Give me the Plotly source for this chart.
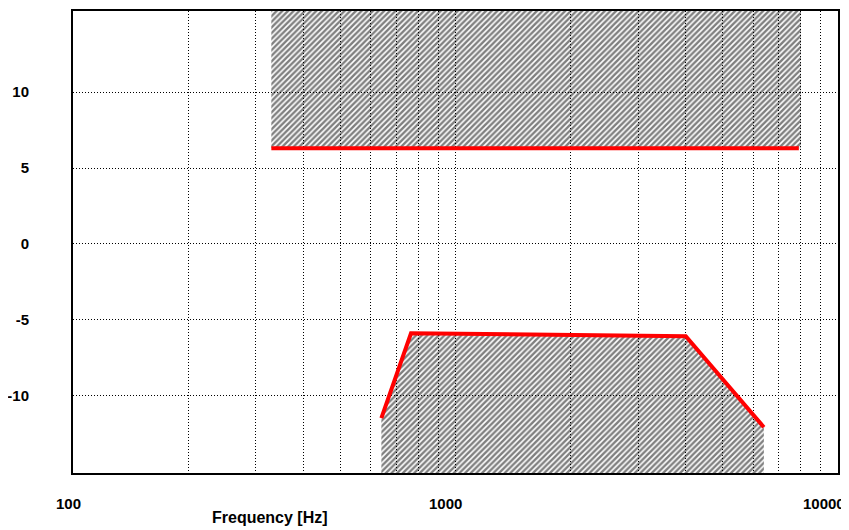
import math
import plotly.graph_objects as go

# Data
upper_x = [330, 8000]
upper_y = [6.3, 6.3]
upper_line_end = 7900
upper_top = 16

lower_x = [640, 765, 4000, 6400]
lower_y = [-11.5, -5.9, -6.1, -12.1]
y_bottom = -16

x_grid = [100, 200, 300, 400, 500, 600, 700, 800, 900,
          1000, 2000, 3000, 4000, 5000, 6000, 7000, 8000, 9000, 10000]
x_label_vals = [100, 1000, 10000]
x_label_text = ["100", "1000", "10000"]
x_label_shift = [-5, -10, -14]
y_ticks = [-10, -5, 0, 5, 10]
y_labels = ["-10", "-5", "0", "5", "10"]

pattern = dict(shape="/", fgcolor="#000000", bgcolor="rgba(0,0,0,0)", size=4, solidity=0.6)

fig = go.Figure()
fig.add_trace(go.Scatter(
    x=[upper_x[0], upper_x[1], upper_x[1], upper_x[0], upper_x[0]],
    y=[upper_y[0], upper_y[1], upper_top, upper_top, upper_y[0]],
    fill="toself", mode="none", fillcolor="rgba(0,0,0,0)", fillpattern=pattern,
    showlegend=False, hoverinfo="skip"))
fig.add_trace(go.Scatter(
    x=lower_x + [lower_x[-1], lower_x[0], lower_x[0]],
    y=lower_y + [y_bottom, y_bottom, lower_y[0]],
    fill="toself", mode="none", fillcolor="rgba(0,0,0,0)", fillpattern=pattern,
    showlegend=False, hoverinfo="skip"))
fig.add_trace(go.Scatter(x=[upper_x[0], upper_line_end], y=upper_y, mode="lines",
                         line=dict(color="#ff0000", width=4), showlegend=False))
fig.add_trace(go.Scatter(x=lower_x, y=lower_y, mode="lines",
                         line=dict(color="#ff0000", width=4), showlegend=False))

font_family = "Liberation Sans, Arial"
tick_font = dict(family=font_family, size=15, color="black", weight="bold")

fig.update_xaxes(
    type="log", range=[2, 4], automargin=False,
    tickvals=x_grid, showticklabels=False,
    showgrid=True, gridcolor="black", griddash="1px,2px", gridwidth=1.3,
    showline=True, linecolor="black", linewidth=2, mirror=True,
    ticks="", zeroline=False)
fig.update_yaxes(
    range=[-15.12, 15.36], tickvals=y_ticks, ticktext=y_labels, automargin=False,
    showgrid=True, gridcolor="black", griddash="1px,2px", gridwidth=1.3,
    showline=True, linecolor="black", linewidth=2, mirror=True,
    ticks="", tickfont=tick_font, ticklabelstandoff=39,
    zeroline=False)

for v, t, s in zip(x_label_vals, x_label_text, x_label_shift):
    fig.add_annotation(text=t, xref="x", yref="paper", x=math.log10(v), y=0,
                       xanchor="center", yanchor="middle", xshift=s, yshift=-30,
                       showarrow=False, font=tick_font)

fig.add_annotation(text="Frequency [Hz]", xref="paper", yref="paper",
                   x=(269.5 - 73) / 765, y=0, yshift=-44, showarrow=False,
                   xanchor="center", yanchor="middle",
                   font=dict(family=font_family, size=16, color="black", weight="bold"))

# page body adds an 8px offset; figure sized to fill the remaining window
fig.update_layout(
    width=841, height=522,
    margin=dict(l=65, r=11, t=3, b=57),
    paper_bgcolor="white", plot_bgcolor="white")

fig.write_html("out.html")
